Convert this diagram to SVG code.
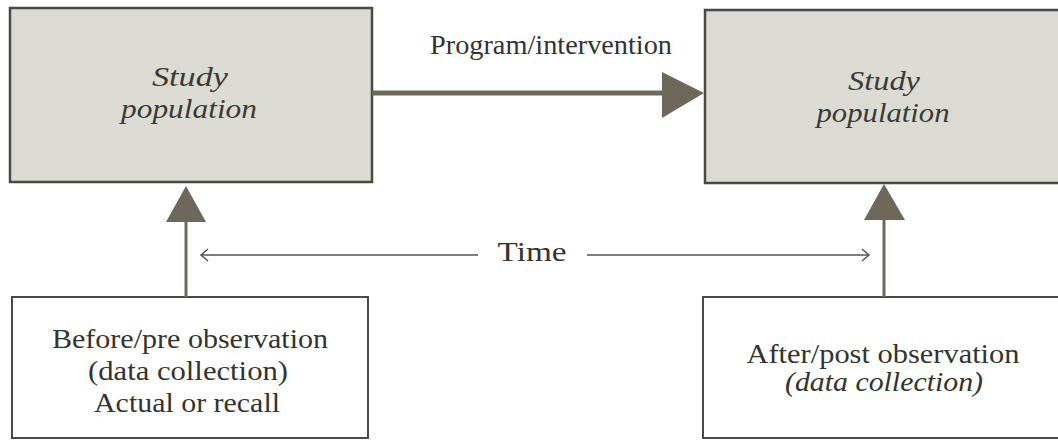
<svg xmlns="http://www.w3.org/2000/svg" width="1058" height="440" viewBox="0 0 1058 440">
<defs>
<style>
.pop{fill:#dcdbd3;stroke:#4a4943;stroke-width:2.5}
.obs{fill:#ffffff;stroke:#4a4943;stroke-width:2}
.it{font-family:"Liberation Serif",serif;font-style:italic;font-size:28px;fill:#3a3a36;text-anchor:middle}
.tx{font-family:"Liberation Serif",serif;font-size:27px;fill:#333330;text-anchor:middle}
.shaft{stroke:#6e685b;fill:none}
.head{fill:#6e685b}
.thin{stroke:#555550;stroke-width:1.5;fill:none}
</style>
</defs>
<rect width="1058" height="440" fill="#ffffff"/>
<g id="pre-population">
<rect class="pop" x="10" y="8" width="362" height="174"/>
<text class="it" x="190" y="86" textLength="76" lengthAdjust="spacingAndGlyphs">Study</text>
<text class="it" x="189" y="118" textLength="136" lengthAdjust="spacingAndGlyphs">population</text>
</g>
<g id="post-population">
<rect class="pop" x="705" y="10" width="370" height="173"/>
<text class="it" x="884" y="90" textLength="72" lengthAdjust="spacingAndGlyphs">Study</text>
<text class="it" x="883" y="122" textLength="133" lengthAdjust="spacingAndGlyphs">population</text>
</g>
<g id="pre-observation">
<rect class="obs" x="12" y="297" width="356" height="141"/>
<text class="tx" x="190" y="348" textLength="276" lengthAdjust="spacingAndGlyphs">Before/pre observation</text>
<text class="tx" x="188" y="380" textLength="200" lengthAdjust="spacingAndGlyphs">(data collection)</text>
<text class="tx" x="187" y="412" textLength="186" lengthAdjust="spacingAndGlyphs">Actual or recall</text>
</g>
<g id="post-observation">
<rect class="obs" x="703" y="297" width="370" height="141"/>
<text class="tx" x="883" y="363" textLength="273" lengthAdjust="spacingAndGlyphs">After/post observation</text>
<text class="tx" x="884" y="391" font-style="italic" textLength="198" lengthAdjust="spacingAndGlyphs">(data collection)</text>
</g>
<g id="connectors">
<line class="shaft" x1="372" y1="93" x2="664" y2="93" stroke-width="5"/>
<polygon class="head" points="662,72 704,93 662,118"/>
<text class="tx" x="551" y="54" textLength="242" lengthAdjust="spacingAndGlyphs">Program/intervention</text>
<line class="shaft" x1="186" y1="297" x2="186" y2="220" stroke-width="3"/>
<polygon class="head" points="166,222 186,186 206,222"/>
<line class="shaft" x1="884" y1="297" x2="884" y2="218" stroke-width="3"/>
<polygon class="head" points="864,220 884,184 905,220"/>
<line class="thin" x1="201" y1="255" x2="478" y2="255"/>
<polyline class="thin" points="208,249 201,255 208,261"/>
<line class="thin" x1="587" y1="255" x2="869" y2="255"/>
<polyline class="thin" points="862,249 869,255 862,261"/>
<text class="tx" x="532" y="261" textLength="69" lengthAdjust="spacingAndGlyphs">Time</text>
</g>
</svg>
